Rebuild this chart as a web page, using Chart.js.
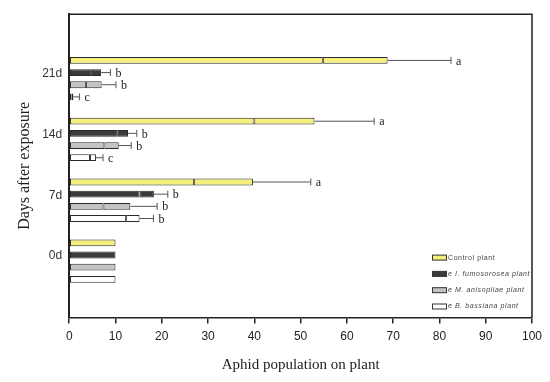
<!DOCTYPE html>
<html>
<head>
<meta charset="utf-8">
<script src="https://cdn.jsdelivr.net/npm/chart.js@4.4.1/dist/chart.umd.min.js"></script>
<style>
  html, body { margin: 0; padding: 0; background: #fff; }
  .chart { width: 550px; height: 382px; }
</style>
</head>
<body>
<div class="chart"><canvas id="chart__canvas" width="550" height="382"></canvas></div>
<script>
const days = ['21d', '14d', '7d', '0d']
const seriesNames = ['Control plant', 'e I. fumosorosea plant', 'e M. anisopliae plant', 'e B. bassiana plant']

// bar end (mean) per series, order 21d, 14d, 7d, 0d
const controlMean = [68.8, 53.0, 39.7, 10]
const fumosoroseaMean = [6.9, 12.7, 18.3, 10]
const anisopliaeMean = [7.0, 10.7, 13.2, 10]
const bassianaMean = [0.9, 5.8, 15.2, 10]

// inner divider line drawn inside each bar
const controlInner = [54.8, 40.0, 27.0, 10]
const fumosoroseaInner = [4.9, 10.5, 15.2, 10]
const anisopliaeInner = [3.6, 7.6, 7.4, 10]
const bassianaInner = [0.5, 4.5, 12.3, 10]

// end of error whisker
const controlError = [82.5, 65.9, 52.2, null]
const fumosoroseaError = [8.9, 14.6, 21.3, null]
const anisopliaeError = [10.1, 13.4, 19.0, null]
const bassianaError = [2.2, 7.3, 18.2, null]

const controlLetters = ['a', 'a', 'a', '']
const fumosoroseaLetters = ['b', 'b', 'b', '']
const anisopliaeLetters = ['b', 'b', 'b', '']
const bassianaLetters = ['c', 'c', 'b', '']

const xTicks = [0, 10, 20, 30, 40, 50, 60, 70, 80, 90, 100]

const seriesColors = ['#f6ef7e', '#3b3b3b', '#c4c4c4', '#ffffff']

const means = [controlMean, fumosoroseaMean, anisopliaeMean, bassianaMean]
const inners = [controlInner, fumosoroseaInner, anisopliaeInner, bassianaInner]
const errors = [controlError, fumosoroseaError, anisopliaeError, bassianaError]
const letters = [controlLetters, fumosoroseaLetters, anisopliaeLetters, bassianaLetters]

function toPoints(values) {
  return values.map((v, k) => ({ x: v, y: k }))
}

const datasets = []
seriesNames.forEach((name, i) => {
  const base = inners[i]
  const rest = means[i].map((m, k) => (m - base[k] > 0 ? m - base[k] : null))
  const common = {
    stack: 's' + i,
    backgroundColor: seriesColors[i],
    borderColor: '#2a2a2a',
    borderWidth: 1,
    borderSkipped: false,
    categoryPercentage: 0.8,
    barPercentage: 0.56,
  }
  datasets.push({ ...common, label: name, data: toPoints(base), part: 'base', series: i })
  datasets.push({ ...common, label: name, data: toPoints(rest), part: 'top', series: i })
})

const frameAndErrors = {
  id: 'frameAndErrors',
  afterDatasetsDraw(chart) {
    const { ctx, chartArea, scales } = chart
    const x = scales.x

    // top and right border of the box
    ctx.save()
    ctx.strokeStyle = '#222'
    ctx.lineWidth = 1.5
    ctx.beginPath()
    ctx.moveTo(chartArea.left, chartArea.top)
    ctx.lineTo(chartArea.right, chartArea.top)
    ctx.lineTo(chartArea.right, chartArea.bottom)
    ctx.stroke()

    // error whiskers and letters
    ctx.strokeStyle = '#555'
    ctx.lineWidth = 1
    ctx.fillStyle = '#222'
    ctx.font = '12px "Liberation Serif", serif'
    ctx.textBaseline = 'middle'
    chart.data.datasets.forEach((ds, di) => {
      if (ds.part !== 'base') return
      const meta = chart.getDatasetMeta(di)
      const i = ds.series
      errors[i].forEach((err, k) => {
        if (err === null) return
        const y = meta.data[k].y
        const x0 = x.getPixelForValue(means[i][k])
        const x1 = x.getPixelForValue(err)
        ctx.beginPath()
        ctx.moveTo(x0, y)
        ctx.lineTo(x1, y)
        ctx.moveTo(x1, y - 3.5)
        ctx.lineTo(x1, y + 3.5)
        ctx.stroke()
        ctx.fillText(letters[i][k], x1 + 5, y + 1)
      })
    })

    // legend inside the plot, lower right
    ctx.textBaseline = 'middle'
    seriesNames.forEach((name, i) => {
      const bx = chartArea.right - 100
      const by = chartArea.bottom - 60 + i * 16.3
      ctx.fillStyle = seriesColors[i]
      ctx.fillRect(bx, by - 2.5, 15, 5)
      ctx.strokeStyle = '#333'
      ctx.strokeRect(bx + 0.5, by - 2.5, 14, 5)
      ctx.fillStyle = '#444'
      ctx.font = (i === 0 ? '' : 'italic ') + '7px "Liberation Sans", Arial, sans-serif'
      ctx.fillText(name.split('').join(String.fromCharCode(8202)), bx + 16, by)
    })
    ctx.restore()
  },
}

const ctx = document.getElementById('chart__canvas').getContext('2d')

new Chart(ctx, {
  type: 'bar',
  data: {
    datasets: datasets,
  },
  plugins: [frameAndErrors],
  options: {
    indexAxis: 'y',
    responsive: false,
    animation: false,
    layout: {
      padding: { left: 15, right: 18, top: 12, bottom: 4 },
    },
    plugins: {
      legend: { display: false },
      tooltip: { enabled: false },
    },
    scales: {
      x: {
        type: 'linear',
        stacked: true,
        min: 0,
        max: 100,
        afterBuildTicks: (axis) => {
          axis.ticks = xTicks.map((v) => ({ value: v }))
        },
        grid: {
          drawOnChartArea: false,
          drawTicks: true,
          tickLength: 6,
          color: '#222',
          lineWidth: 1.5,
        },
        border: { display: true, color: '#222', width: 1.5 },
        ticks: {
          color: '#222',
          padding: 6,
          font: { family: '"Liberation Sans", Arial, sans-serif', size: 12 },
        },
        title: {
          display: true,
          text: 'Aphid population on plant',
          color: '#222',
          font: { family: '"Liberation Serif", "Times New Roman", serif', size: 15 },
          padding: { top: 6, bottom: 4 },
        },
      },
      y: {
        type: 'linear',
        reverse: true,
        offset: false,
        min: -1.06,
        max: 3.93,
        afterBuildTicks: (axis) => {
          axis.ticks = days.map((d, k) => ({ value: k }))
        },
        grid: { display: false, drawTicks: false, offset: false },
        border: { display: true, color: '#222', width: 2 },
        ticks: {
          color: '#333',
          padding: 7,
          labelOffset: -5,
          callback: (value) => days[value],
          font: { family: '"Liberation Sans", Arial, sans-serif', size: 12 },
        },
        title: {
          display: true,
          text: 'Days after exposure',
          color: '#222',
          font: { family: '"Liberation Serif", "Times New Roman", serif', size: 16 },
          padding: { top: 0, bottom: 1 },
        },
      },
    },
  },
})
</script>
</body>
</html>
